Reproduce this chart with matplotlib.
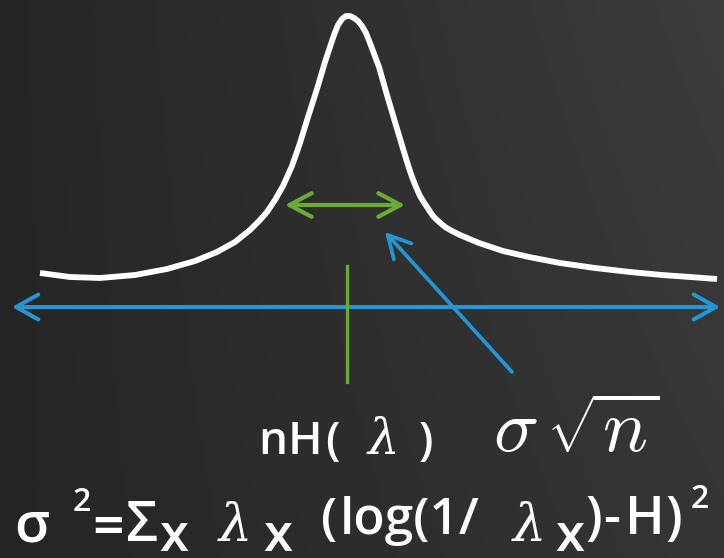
import numpy as np
import matplotlib
matplotlib.use("Agg")
import matplotlib.pyplot as plt
from matplotlib.patches import ArrowStyle

plt.rcParams['font.family'] = ['Open Sans', 'DejaVu Sans']

# Peaked distribution curve (x, height), canvas units with y growing downward
curve_x = [40, 70, 100, 135, 167, 195, 217, 235, 250, 260, 267, 275, 283, 292,
           300, 308, 317, 325, 330, 334, 338, 342, 346, 350, 354, 358, 362, 366,
           370, 379, 387, 395, 404, 408, 412, 416, 420, 425, 429, 433, 437, 445,
           452, 460, 479, 503, 529, 560, 595, 630, 662, 690, 717]
curve_y = [273, 277, 278, 275, 269, 261, 252, 242, 230, 220, 212, 200, 186, 166,
           143, 117, 89, 62, 47, 35, 25, 19, 16, 16, 18, 21, 26, 33,
           43, 67, 95, 122, 152, 165, 177, 187, 196, 204, 210, 216, 220, 227,
           231, 235, 243, 251, 257, 263, 268, 272, 275, 277, 279]

# Axis line with arrows at both ends
axis_span = (12, 720)
axis_level = 307

# Mean marker and width indicator
mean_x = 347
mean_span = (266, 382)
width_span = (285, 405)
width_level = 205

# Pointer to the width annotation
pointer_tail = (512, 372)
pointer_head = (385, 232)

# Label for the mean: piece, centre x, baseline, size, face
mean_pieces = ['n', 'H', '(', r'$\lambda$', ')']
mean_cx = [273, 305, 332, 381, 425.5]
mean_base = [454, 454, 454, 454, 454]
mean_size = [33, 33, 33, 36, 33]
mean_face = ['sans', 'sans', 'sans', 'serif', 'sans']

spread_label = r'$\sigma\,\sqrt{n}$'

# Variance formula, laid out piece by piece
var_pieces = ['σ', '2', '=', 'Σ', 'x', r'$\lambda$', 'x', '(', 'log(1/',
              r'$\lambda$', 'x', ')', '-', 'H', ')', '2']
var_cx = [31.5, 81.5, 108.5, 142, 174, 233, 278, 329.5, 409.5,
          527, 570, 594, 611.5, 645, 673.5, 700]
var_base = [541, 511, 545, 541, 551, 541, 551, 534, 534,
            541, 551, 534, 534, 534, 534, 508]
var_size = [40, 23, 40, 40, 38, 38, 38, 37, 37,
            38, 38, 38, 38, 38, 38, 23]
var_face = ['sans', 'sans', 'sans', 'sans', 'sub', 'serif', 'sub', 'sans', 'sans',
            'serif', 'sub', 'sans', 'sans', 'sans', 'sans', 'sans']

W, H = 724, 558
fig = plt.figure(figsize=(W / 100, H / 100), dpi=100)
ax = fig.add_axes([0, 0, 1, 1])
ax.set_xlim(0, W)
ax.set_ylim(H, 0)
ax.axis('off')

# Dark chalkboard background, lighter toward the upper right
gx = np.linspace(0, 1, 300)[None, :]
gy = np.linspace(0, 1, 230)[:, None]
bg = 0.145 + 0.09 * gx * (1 - 0.3 * gy)
ax.imshow(bg, cmap='gray', vmin=0, vmax=1, extent=[0, W, H, 0],
          aspect='auto', zorder=0, interpolation='bilinear')

blue = '#2197d6'
green = '#6aab36'

ax.plot(curve_x, curve_y, color='white', lw=4.2, solid_capstyle='butt',
        solid_joinstyle='round', zorder=3)

blue_head = ArrowStyle('<->', head_length=16, head_width=9)
ax.annotate('', xy=(axis_span[1], axis_level), xytext=(axis_span[0], axis_level),
            arrowprops=dict(arrowstyle=blue_head, color=blue, lw=2.9,
                            shrinkA=0, shrinkB=0, mutation_scale=1,
                            capstyle='round', joinstyle='round'), zorder=2)

green_head = ArrowStyle('<->', head_length=16, head_width=8.5)
ax.annotate('', xy=(width_span[1], width_level), xytext=(width_span[0], width_level),
            arrowprops=dict(arrowstyle=green_head, color=green, lw=3.0,
                            shrinkA=0, shrinkB=0, mutation_scale=1,
                            capstyle='round', joinstyle='round'), zorder=4)

ax.plot([mean_x, mean_x], mean_span, color=green, lw=2.4, zorder=4)

ptr_head = ArrowStyle('->', head_length=16, head_width=8.5)
ax.annotate('', xy=pointer_head, xytext=pointer_tail,
            arrowprops=dict(arrowstyle=ptr_head, color=blue, lw=2.7,
                            shrinkA=0, shrinkB=0, mutation_scale=1,
                            capstyle='round', joinstyle='round'), zorder=4)


def put_pieces(pieces, cx, base, size, face):
    for p, x, y, s, f in zip(pieces, cx, base, size, face):
        kw = dict(color='white', fontsize=s, ha='center', va='baseline', zorder=5)
        if f == 'serif':
            ax.text(x, y, p, math_fontfamily='dejavuserif', **kw)
        elif f == 'sub':
            ax.text(x, y, r'$\mathregular{%s}$' % p, fontweight='semibold', **kw)
        else:
            ax.text(x, y, p, fontweight='semibold', **kw)


put_pieces(mean_pieces, mean_cx, mean_base, mean_size, mean_face)
put_pieces(var_pieces, var_cx, var_base, var_size, var_face)

ax.text(493, 452, spread_label, color='white', fontsize=54, ha='left',
        va='baseline', math_fontfamily='cm', zorder=5)

fig.savefig('out.png', dpi=100)
